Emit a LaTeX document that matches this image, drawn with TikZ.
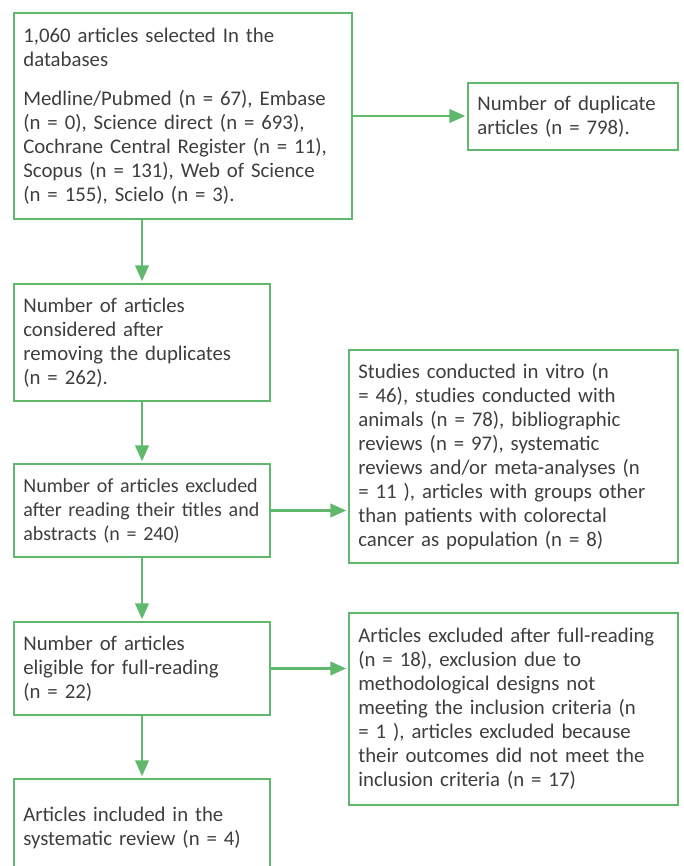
\documentclass[tikz,border=0pt]{standalone}
\usepackage{fontspec}
\setmainfont{Carlito}
\usepackage{xcolor}
\usepackage{tikz}
\usetikzlibrary{arrows.meta}

\definecolor{flowgreen}{RGB}{96,184,108}
\definecolor{flowtext}{RGB}{62,62,62}
\hyphenpenalty=10000
\exhyphenpenalty=10000

\begin{document}
\begin{tikzpicture}[x=0.75pt,y=-0.75pt]

\tikzstyle{stagebox}=[draw=flowgreen,line width=2.2pt,anchor=north west,outer sep=0pt,
  inner xsep=7pt,inner ysep=3pt,align=left,text=flowtext,font=\fontsize{15.6}{18}\selectfont]
\tikzstyle{flow}=[color=flowgreen,line width=2.2pt,-{Triangle[length=12pt,width=10pt]},shorten >=2pt]

\useasboundingbox (0,0) rectangle (683,866);

%% Left column
\node [stagebox,minimum width=253.5pt,minimum height=154.5pt,text width=239.5pt] (found) at (14,13)
  {1,060 articles selected In the\\ databases\\[11pt]
   Medline/Pubmed (n = 67), Embase\\ (n = 0), Science direct (n = 693),\\
   Cochrane~Central~Register~(n~=~11),\\ Scopus (n = 131), Web of Science\\
   (n = 155), Scielo (n = 3).};
\node [stagebox,minimum width=192pt,minimum height=87.75pt,text width=178pt] (kept) at (14,284)
  {Number of articles\\ considered after\\ removing the duplicates\\ (n = 262).};
\node [stagebox,minimum width=192pt,minimum height=69.75pt,text width=178pt,
  font=\fontsize{15}{18}\selectfont] (screened) at (14,464)
  {Number~of~articles~excluded\\ after~reading~their~titles~and\\ abstracts (n = 240)};
\node [stagebox,minimum width=192pt,minimum height=69.75pt,text width=178pt] (eligible) at (14,622)
  {Number of articles\\ eligible for full-reading\\ (n = 22)};
\node [stagebox,minimum width=192pt,minimum height=73.5pt,text width=178pt] (included) at (14,779)
  {Articles included in the\\ systematic review (n = 4)};

%% Right column
\node [stagebox,minimum width=157.5pt,minimum height=50.25pt,text width=143.5pt] (duplicates) at (468,83)
  {Number of duplicate\\ articles (n = 798).};
\node [stagebox,minimum width=246.75pt,minimum height=159.75pt,text width=232.75pt] (excluded) at (349,350)
  {Studies conducted in vitro (n\\ = 46), studies conducted with\\ animals (n = 78), bibliographic\\
   reviews (n = 97), systematic\\ reviews and/or meta-analyses (n\\ = 11 ), articles with groups other\\
   than patients with colorectal\\ cancer as population (n = 8)};
\node [stagebox,minimum width=246.75pt,minimum height=144pt,text width=232.75pt] (fullread) at (349,613)
  {Articles excluded after full-reading\\ (n = 18), exclusion due to\\ methodological designs not\\
   meeting the inclusion criteria (n\\ = 1 ), articles excluded because\\
   their outcomes did not meet the\\ inclusion criteria (n = 17)};

%% Arrows
\draw [flow] (found.south -| kept.north) -- (kept.north);
\draw [flow] (found.east) -- (found.east -| duplicates.west);
\draw [flow] (kept.south) -- (screened.north);
\draw [flow] (screened.east) -- (screened.east -| excluded.west);
\draw [flow] (screened.south) -- (eligible.north);
\draw [flow] (eligible.east) -- (eligible.east -| fullread.west);
\draw [flow] (eligible.south) -- (included.north);

\end{tikzpicture}
\end{document}
